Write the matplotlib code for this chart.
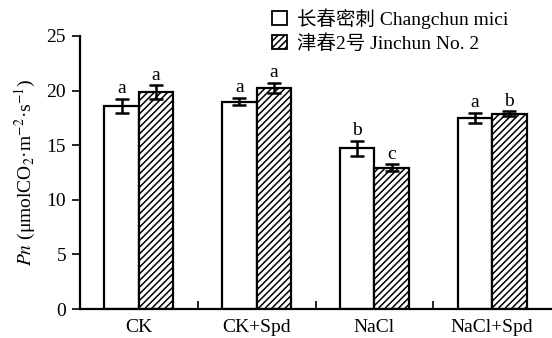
import matplotlib
matplotlib.use("Agg")
import matplotlib.pyplot as plt
from matplotlib.patches import Patch
import numpy as np

plt.rcParams['font.family'] = ['Liberation Serif', 'Noto Sans CJK SC']
plt.rcParams['mathtext.fontset'] = 'stix'
plt.rcParams['hatch.linewidth'] = 1.1
plt.rcParams['axes.unicode_minus'] = False

groups = ['CK', 'CK+Spd', 'NaCl', 'NaCl+Spd']
series = ['长春密刺 Changchun mici', '津春2号 Jinchun No. 2']
changchun = [18.6, 19.0, 14.7, 17.5]
changchun_err = [0.65, 0.35, 0.72, 0.48]
jinchun = [19.85, 20.25, 12.95, 17.9]
jinchun_err = [0.62, 0.48, 0.3, 0.22]
changchun_sig = ['a', 'a', 'b', 'a']
jinchun_sig = ['a', 'a', 'c', 'b']

fig = plt.figure(figsize=(5.52, 3.38), dpi=100)
ax = fig.add_axes([80/552, 29/338, 471/552, 273/338])

x = np.arange(len(groups))
w = 0.292
lw = 1.6
b1 = ax.bar(x - w/2, changchun, w, color='white', edgecolor='black', linewidth=lw, zorder=2)
b2 = ax.bar(x + w/2, jinchun, w, color='white', edgecolor='black', hatch='/////', linewidth=lw, zorder=2)
ax.errorbar(x - w/2, changchun, yerr=changchun_err, fmt='none', ecolor='black',
            elinewidth=1.8, capsize=5, capthick=1.8, zorder=3)
ax.errorbar(x + w/2, jinchun, yerr=jinchun_err, fmt='none', ecolor='black',
            elinewidth=1.8, capsize=5, capthick=1.8, zorder=3)

for xi, v, e, s in zip(x - w/2, changchun, changchun_err, changchun_sig):
    ax.annotate(s, (xi, v + e), xytext=(0, 1), textcoords='offset points',
                ha='center', va='bottom', fontsize=14)
for xi, v, e, s in zip(x + w/2, jinchun, jinchun_err, jinchun_sig):
    ax.annotate(s, (xi, v + e), xytext=(0, 1), textcoords='offset points',
                ha='center', va='bottom', fontsize=14)

ax.set_xlim(-0.5, 3.5)
ax.set_ylim(0, 25)
ax.set_yticks([0, 5, 10, 15, 20, 25])
ax.tick_params(axis='y', direction='out', length=6, width=1.2, labelsize=14, pad=4)

# group labels at centres, small upward ticks at the group boundaries
ax.set_xticks(x)
ax.set_xticklabels(groups)
ax.tick_params(axis='x', which='major', length=0, labelsize=14, pad=7)
ax.set_xticks([0.5, 1.5, 2.5], minor=True)
ax.tick_params(axis='x', which='minor', direction='in', length=6, width=1.2)

for side in ['top', 'right']:
    ax.spines[side].set_visible(False)
ax.spines['left'].set_linewidth(1.6)
ax.spines['bottom'].set_linewidth(1.6)

ax.set_ylabel(r'$Pn$ (μmolCO$_2$·m$^{-2}$·s$^{-1}$)', fontsize=14, labelpad=6)

handles = [Patch(facecolor='white', edgecolor='black', linewidth=1.3),
           Patch(facecolor='white', edgecolor='black', hatch='/////', linewidth=1.3)]
fig.legend(handles, series, loc='upper left', bbox_to_anchor=(272/552, 1 - 8/338),
           frameon=False, fontsize=14, handlelength=0.75, handleheight=0.75,
           handletextpad=0.55, labelspacing=0.3, borderaxespad=0, borderpad=0)

fig.savefig('out.png', dpi=100)
